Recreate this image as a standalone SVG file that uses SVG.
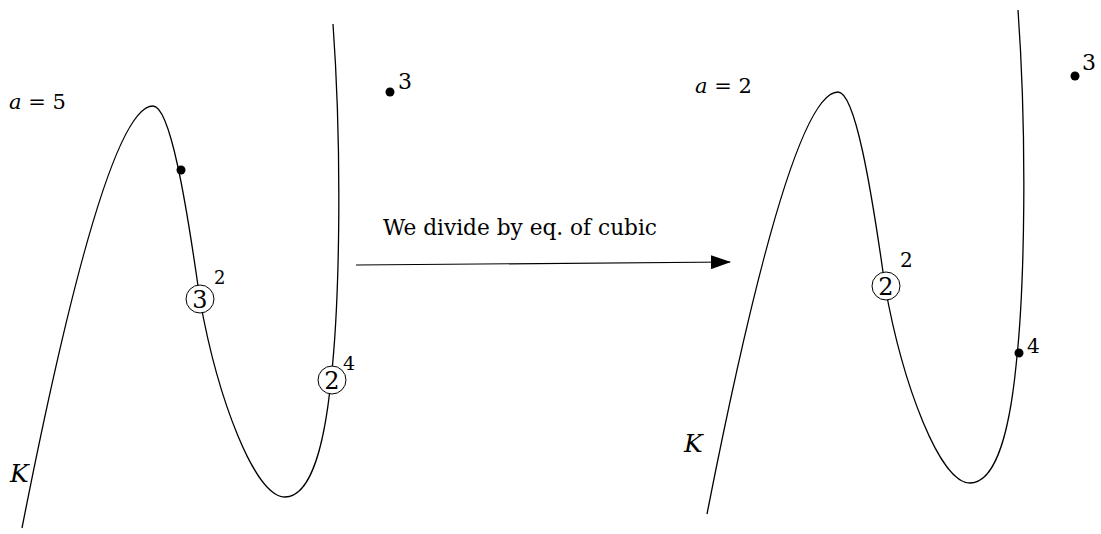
<svg xmlns="http://www.w3.org/2000/svg" width="1101" height="534" viewBox="0 0 1101 534">
<style>
.curve{fill:none;stroke:#000;stroke-width:1.3}
.circ{fill:#fff;stroke:#000;stroke-width:1}
text{font-family:'DejaVu Serif','Liberation Serif',serif;fill:#000}
.it{font-style:italic}
</style>
<defs>
<marker id="arr" markerWidth="20" markerHeight="14" refX="19" refY="7" orient="auto" markerUnits="userSpaceOnUse">
<path d="M0,0 L20,7 L0,14 Z" fill="#000"/>
</marker>
<path id="cub" d="M22,528 C55,360 110,106 153,106 C170,106 186,200 200,300 C218,400 255,497 285,497 C312,497 325,440 331,380 C340,300 342,150 333,24"/>
</defs>
<rect width="1101" height="534" fill="#fff"/>
<g id="left-curve">
<use href="#cub" class="curve"/>
</g>
<g id="left-labels">
<text x="9" y="109" font-size="21"><tspan class="it">a</tspan> = 5</text>
<text class="it" x="10" y="482" font-size="25">K</text>
<circle cx="181" cy="170" r="4.5"/>
<circle cx="200" cy="299" r="14" class="circ"/>
<text x="200" y="308" font-size="24" text-anchor="middle">3</text>
<text x="214" y="284" font-size="18">2</text>
<circle cx="332" cy="380" r="14" class="circ"/>
<text x="332" y="389" font-size="24" text-anchor="middle">2</text>
<text x="343" y="370" font-size="19">4</text>
<circle cx="390" cy="92" r="4.5"/>
<text x="398" y="89" font-size="22">3</text>
</g>
<g id="connectors">
<line x1="356" y1="265" x2="730" y2="262" stroke="#000" stroke-width="1.2" marker-end="url(#arr)"/>
<text x="383" y="235" font-size="22" textLength="274" lengthAdjust="spacingAndGlyphs">We divide by eq. of cubic</text>
</g>
<g id="right-curve">
<use href="#cub" class="curve" transform="translate(685,-14)"/>
</g>
<g id="right-labels">
<text x="695" y="93" font-size="21"><tspan class="it">a</tspan> = 2</text>
<text class="it" x="684" y="452" font-size="25">K</text>
<circle cx="886" cy="286" r="14" class="circ"/>
<text x="886" y="295" font-size="24" text-anchor="middle">2</text>
<text x="900" y="267" font-size="20">2</text>
<circle cx="1019" cy="353" r="4.5"/>
<text x="1027" y="353" font-size="20">4</text>
<circle cx="1075" cy="76" r="4.5"/>
<text x="1082" y="70" font-size="22">3</text>
</g>
</svg>
